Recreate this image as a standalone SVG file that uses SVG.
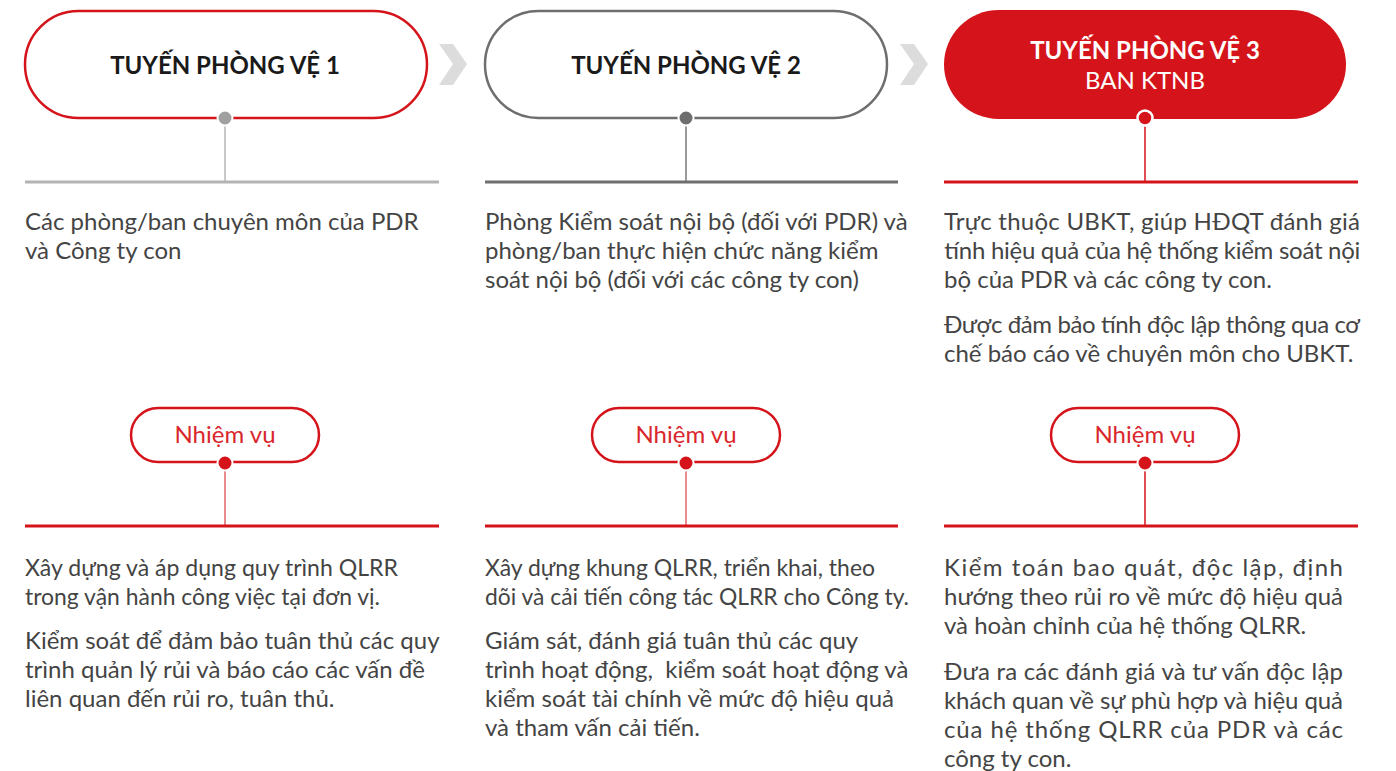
<svg xmlns="http://www.w3.org/2000/svg" width="1396" height="771" viewBox="0 0 1396 771">
<style>
text{font-family:Lato,"Noto Sans","Liberation Sans",sans-serif}
.title{font-size:24px;font-weight:bold;text-anchor:middle}
.body{font-size:24px;fill:#444}
.nv{font-size:24px;fill:#d9262c;text-anchor:middle}
.nvpill{fill:#fff;stroke:#d4141a;stroke-width:2.5}
.redline{stroke:#d4141a;stroke-width:3}
.chev{fill:#dcdcdc}
</style>
<rect width="1396" height="771" fill="#fff"/>
<g id="chevrons">
<polygon class="chev" points="439,44 453,44 467,64 453,85 439,85 453,64"/>
<polygon class="chev" points="900,44 914,44 928,64 914,85 900,85 914,64"/>
</g>
<g id="connectors">
<line x1="225" y1="125" x2="225" y2="182" stroke="#c8c8c8" stroke-width="2"/>
<line x1="25" y1="182" x2="439" y2="182" stroke="#b3b3b3" stroke-width="3"/>
<line x1="686" y1="125" x2="686" y2="182" stroke="#9a9a9a" stroke-width="2"/>
<line x1="485" y1="182" x2="898" y2="182" stroke="#6e6e6e" stroke-width="3"/>
<line x1="1145" y1="125" x2="1145" y2="182" stroke="#d4141a" stroke-width="1.5"/>
<line x1="944" y1="182" x2="1358" y2="182" class="redline"/>
<line x1="225" y1="470" x2="225" y2="525" stroke="#e0666a" stroke-width="1.5"/>
<line x1="25" y1="526" x2="439" y2="526" class="redline"/>
<line x1="686" y1="470" x2="686" y2="525" stroke="#e0666a" stroke-width="1.5"/>
<line x1="485" y1="526" x2="898" y2="526" class="redline"/>
<line x1="1145" y1="470" x2="1145" y2="525" stroke="#d4141a" stroke-width="1.5"/>
<line x1="944" y1="526" x2="1358" y2="526" class="redline"/>
</g>
<g id="line1">
<rect x="25" y="11" width="402" height="107" rx="53.5" fill="#fff" stroke="#d4141a" stroke-width="2.5"/>
<circle cx="225" cy="118" r="7.5" fill="#a0a0a0" stroke="#fff" stroke-width="2"/>
<text class="title" x="225" y="74" fill="#1a1a1a">TUYẾN PHÒNG VỆ 1</text>
<text class="body" x="25" y="230">Các phòng/ban chuyên môn của PDR</text>
<text class="body" x="25" y="259">và Công ty con</text>
</g>
<g id="line2">
<rect x="485" y="11" width="402" height="107" rx="53.5" fill="#fff" stroke="#6e6e6e" stroke-width="2.5"/>
<circle cx="686" cy="118" r="7.5" fill="#6e6e6e" stroke="#fff" stroke-width="2"/>
<text class="title" x="686" y="74" fill="#1a1a1a">TUYẾN PHÒNG VỆ 2</text>
<text class="body" x="485" y="230">Phòng Kiểm soát nội bộ (đối với PDR) và</text>
<text class="body" x="485" y="259">phòng/ban thực hiện chức năng kiểm</text>
<text class="body" x="485" y="288">soát nội bộ (đối với các công ty con)</text>
</g>
<g id="line3">
<rect x="944" y="10" width="402" height="109" rx="54.5" fill="#d4141a"/>
<circle cx="1145" cy="118" r="7.5" fill="#d4141a" stroke="#fff" stroke-width="2.5"/>
<text class="title" x="1145" y="59" fill="#fff">TUYẾN PHÒNG VỆ 3</text>
<text x="1145" y="89" font-size="24" fill="#fff" text-anchor="middle">BAN KTNB</text>
<text class="body" x="944" y="230" textLength="416" lengthAdjust="spacing">Trực thuộc UBKT, giúp HĐQT đánh giá</text>
<text class="body" x="944" y="259" textLength="416" lengthAdjust="spacing">tính hiệu quả của hệ thống kiểm soát nội</text>
<text class="body" x="944" y="288">bộ của PDR và các công ty con.</text>
<text class="body" x="944" y="333" textLength="416" lengthAdjust="spacing">Được đảm bảo tính độc lập thông qua cơ</text>
<text class="body" x="944" y="362">chế báo cáo về chuyên môn cho UBKT.</text>
</g>
<g id="nv1">
<rect class="nvpill" x="131" y="408" width="188" height="54" rx="27"/>
<circle cx="225" cy="463" r="7.5" fill="#d4141a" stroke="#fff" stroke-width="2"/>
<text class="nv" x="225" y="443">Nhiệm vụ</text>
<text class="body" x="25" y="576" textLength="373" lengthAdjust="spacingAndGlyphs">Xây dựng và áp dụng quy trình QLRR</text>
<text class="body" x="25" y="605" textLength="355" lengthAdjust="spacingAndGlyphs">trong vận hành công việc tại đơn vị.</text>
<text class="body" x="25" y="649">Kiểm soát để đảm bảo tuân thủ các quy</text>
<text class="body" x="25" y="678">trình quản lý rủi và báo cáo các vấn đề</text>
<text class="body" x="25" y="707">liên quan đến rủi ro, tuân thủ.</text>
</g>
<g id="nv2">
<rect class="nvpill" x="592" y="408" width="188" height="54" rx="27"/>
<circle cx="686" cy="463" r="7.5" fill="#d4141a" stroke="#fff" stroke-width="2"/>
<text class="nv" x="686" y="443">Nhiệm vụ</text>
<text class="body" x="485" y="576" textLength="390" lengthAdjust="spacingAndGlyphs">Xây dựng khung QLRR, triển khai, theo</text>
<text class="body" x="485" y="605" textLength="424" lengthAdjust="spacingAndGlyphs">dõi và cải tiến công tác QLRR cho Công ty.</text>
<text class="body" x="485" y="649">Giám sát, đánh giá tuân thủ các quy</text>
<text class="body" x="485" y="678" xml:space="preserve">trình hoạt động,  kiểm soát hoạt động và</text>
<text class="body" x="485" y="707">kiểm soát tài chính về mức độ hiệu quả</text>
<text class="body" x="485" y="736">và tham vấn cải tiến.</text>
</g>
<g id="nv3">
<rect class="nvpill" x="1051" y="408" width="188" height="54" rx="27"/>
<circle cx="1145" cy="463" r="7.5" fill="#d4141a" stroke="#fff" stroke-width="2"/>
<text class="nv" x="1145" y="443">Nhiệm vụ</text>
<text class="body" x="944" y="576" textLength="399" lengthAdjust="spacing">Kiểm toán bao quát, độc lập, định</text>
<text class="body" x="944" y="605" textLength="399" lengthAdjust="spacing">hướng theo rủi ro về mức độ hiệu quả</text>
<text class="body" x="944" y="634">và hoàn chỉnh của hệ thống QLRR.</text>
<text class="body" x="944" y="680" textLength="399" lengthAdjust="spacing">Đưa ra các đánh giá và tư vấn độc lập</text>
<text class="body" x="944" y="709" textLength="399" lengthAdjust="spacing">khách quan về sự phù hợp và hiệu quả</text>
<text class="body" x="944" y="738" textLength="399" lengthAdjust="spacing">của hệ thống QLRR của PDR và các</text>
<text class="body" x="944" y="767">công ty con.</text>
</g>
</svg>
